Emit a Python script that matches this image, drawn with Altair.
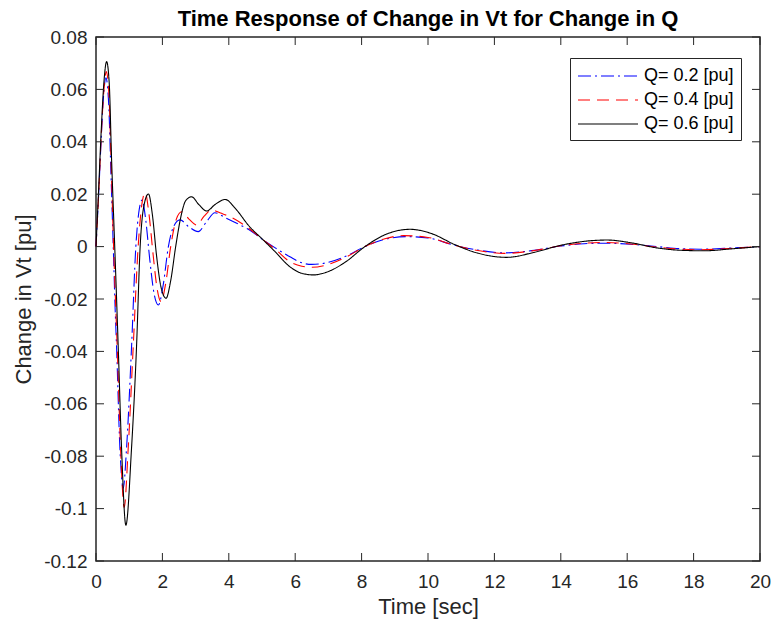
import altair as alt
import pandas as pd

# ---- data ----
series_names = ["Q= 0.2 [pu]", "Q= 0.4 [pu]", "Q= 0.6 [pu]"]

t_q02 = [0, 0.08, 0.16, 0.23, 0.30, 0.38, 0.45, 0.52, 0.58, 0.62, 0.72, 0.82, 0.92, 1.07, 1.20,
         1.30, 1.39, 1.50, 1.62, 1.75, 1.88, 2.02, 2.18, 2.35, 2.53, 2.80, 3.08, 3.33, 3.58, 3.90,
         4.24, 4.60, 5.04, 5.40, 5.84, 6.20, 6.50, 7.00, 7.50, 8.10, 8.70, 9.36, 10.0, 10.8, 11.5,
         12.3, 13.2, 14.0, 14.7, 15.3, 16.1, 16.9, 17.6, 18.2, 19.2, 20.0]
v_q02 = [0, 0.020, 0.042, 0.058, 0.0644, 0.055, 0.028, 0.0, -0.025, -0.0385, -0.077, -0.0922, -0.077, -0.0385, 0.0,
         0.014, 0.0178, 0.010, -0.005, -0.018, -0.0223, -0.015, 0.0, 0.008, 0.0102, 0.0075, 0.0057, 0.0095, 0.0129, 0.011,
         0.0089, 0.0065, 0.0025, -0.0005, -0.0039, -0.0062, -0.0068, -0.0060, -0.0038, 0.0, 0.0028, 0.0038, 0.0033, 0.0005, -0.0013,
         -0.0024, -0.0014, 0.0002, 0.0011, 0.0013, 0.0009, 0.0, -0.0008, -0.0010, -0.0005, 0.0]

t_q04 = [0, 0.08, 0.16, 0.24, 0.31, 0.39, 0.46, 0.53, 0.60, 0.64, 0.74, 0.85, 0.97, 1.12, 1.27,
         1.38, 1.48, 1.60, 1.72, 1.84, 1.96, 2.10, 2.25, 2.42, 2.58, 2.80, 3.03, 3.25, 3.48, 3.75,
         4.04, 4.60, 5.04, 5.40, 5.84, 6.20, 6.50, 7.00, 7.50, 8.10, 8.70, 9.26, 10.0, 10.8, 11.5,
         12.3, 13.2, 14.0, 14.7, 15.3, 16.1, 16.9, 17.6, 18.2, 19.2, 20.0]
v_q04 = [0, 0.020, 0.043, 0.060, 0.0668, 0.058, 0.030, 0.0, -0.025, -0.0385, -0.077, -0.0995, -0.077, -0.0385, 0.0,
         0.016, 0.0206, 0.012, -0.003, -0.016, -0.021, -0.014, 0.0, 0.0105, 0.0133, 0.0105, 0.0082, 0.0115, 0.014, 0.0128,
         0.0114, 0.007, 0.0025, -0.001, -0.0058, -0.0075, -0.0079, -0.0068, -0.0042, 0.0, 0.0030, 0.0042, 0.0035, 0.0005, -0.0015,
         -0.0026, -0.0015, 0.0003, 0.0013, 0.0016, 0.0010, -0.0002, -0.0010, -0.0012, -0.0006, 0.0]

t_q06 = [0, 0.08, 0.16, 0.24, 0.32, 0.40, 0.47, 0.55, 0.62, 0.67, 0.77, 0.90, 1.07, 1.22, 1.33,
         1.45, 1.58, 1.70, 1.82, 1.95, 2.11, 2.25, 2.40, 2.55, 2.70, 2.88, 3.10, 3.33, 3.60, 3.89,
         4.20, 4.60, 5.04, 5.40, 5.84, 6.20, 6.55, 7.00, 7.50, 8.10, 8.70, 9.46, 10.1, 10.8, 11.5,
         12.37, 13.2, 14.0, 14.7, 15.4, 16.1, 16.9, 17.6, 18.3, 19.2, 20.0]
v_q06 = [0, 0.022, 0.045, 0.063, 0.0706, 0.062, 0.033, 0.005, -0.020, -0.0385, -0.077, -0.1063, -0.077, -0.0385, 0.0,
         0.016, 0.0201, 0.012, -0.003, -0.015, -0.0197, -0.013, 0.0, 0.011, 0.0175, 0.019, 0.016, 0.0136, 0.0162, 0.018,
         0.0145, 0.008, 0.0025, -0.002, -0.0077, -0.0102, -0.0108, -0.0095, -0.006, 0.0, 0.0045, 0.0066, 0.0050, 0.0008, -0.0025,
         -0.0041, -0.0022, 0.0005, 0.0020, 0.0025, 0.0015, -0.0005, -0.0014, -0.0016, -0.0008, 0.0]

x_ticks = [0, 2, 4, 6, 8, 10, 12, 14, 16, 18, 20]
y_ticks = [-0.12, -0.1, -0.08, -0.06, -0.04, -0.02, 0, 0.02, 0.04, 0.06, 0.08]

# ---- build table ----
rows = []
for name, ts, vs in zip(series_names, [t_q02, t_q04, t_q06], [v_q02, v_q04, v_q06]):
    for t, v in zip(ts, vs):
        rows.append({"t": t, "v": v, "series": name})
df = pd.DataFrame(rows)
xt = pd.DataFrame({"t": x_ticks})
yt = pd.DataFrame({"v": y_ticks})

W, H = 664, 524
FONT = "Liberation Sans"
AX = "#262626"

xscale = alt.Scale(domain=[0, 20], nice=False, zero=False)
yscale = alt.Scale(domain=[-0.12, 0.08], nice=False, zero=False)

x_axis = alt.Axis(values=x_ticks, title="Time [sec]")
y_axis = alt.Axis(values=y_ticks, title="Change in Vt [pu]", format=".2~f",
                  labelExpr="replace(datum.label, '\u2212', '-')")

leg = alt.Legend(orient="none", legendX=474, legendY=21, title=None,
                 symbolType="M-1,0H5", symbolSize=400, symbolStrokeWidth=1.1,
                 labelFontSize=18, labelFont=FONT, labelColor="#000000",
                 labelOffset=45, padding=7, rowPadding=4,
                 strokeColor=AX, fillColor="#ffffff")

lines = alt.Chart(df).mark_line(strokeWidth=1.1, interpolate="monotone").encode(
    x=alt.X("t:Q", scale=xscale, axis=x_axis),
    y=alt.Y("v:Q", scale=yscale, axis=y_axis),
    color=alt.Color("series:N",
                    scale=alt.Scale(domain=series_names, range=["#0000ff", "#ff0000", "#000000"]),
                    legend=leg),
    strokeDash=alt.StrokeDash("series:N",
                              scale=alt.Scale(domain=series_names, range=[[13, 4, 2, 4], [12, 7], [1, 0]]),
                              legend=leg),
    order=alt.Order("t:Q"),
)

TL = 8
left_ticks = alt.Chart(yt).mark_rule(color=AX, strokeWidth=1).encode(
    y=alt.Y("v:Q", scale=yscale, axis=y_axis), x=alt.value(0), x2=alt.value(TL))
right_ticks = alt.Chart(yt).mark_rule(color=AX, strokeWidth=1).encode(
    y=alt.Y("v:Q", scale=yscale, axis=y_axis), x=alt.value(W - TL), x2=alt.value(W))
bottom_ticks = alt.Chart(xt).mark_rule(color=AX, strokeWidth=1).encode(
    x=alt.X("t:Q", scale=xscale, axis=x_axis), y=alt.value(H - TL), y2=alt.value(H))
top_ticks = alt.Chart(xt).mark_rule(color=AX, strokeWidth=1).encode(
    x=alt.X("t:Q", scale=xscale, axis=x_axis), y=alt.value(0), y2=alt.value(TL))

chart = alt.layer(lines, left_ticks, right_ticks, bottom_ticks, top_ticks).properties(
    width=W, height=H,
    title=alt.TitleParams("Time Response of Change in Vt for Change in Q", fontSize=22, fontWeight="bold",
                          font=FONT, color="#000000", anchor="middle", offset=-3, frame="group"),
    autosize=alt.AutoSizeParams(type="none"),
    padding={"left": 96, "top": 37, "right": 12, "bottom": 71},
).configure_view(
    stroke=AX, strokeWidth=1.5
).configure_axis(
    grid=False, ticks=False, domain=False, labelFlush=False, labelOverlap=False,
    labelFontSize=19, labelFont=FONT, titleFont=FONT, labelColor=AX, titleColor=AX,
    titleFontSize=22, titleFontWeight="normal"
).configure_axisX(
    labelPadding=11, titlePadding=5
).configure_axisY(
    labelPadding=9, titlePadding=8
)

chart.save("out.html", embed_options={"renderer": "svg", "actions": False})
